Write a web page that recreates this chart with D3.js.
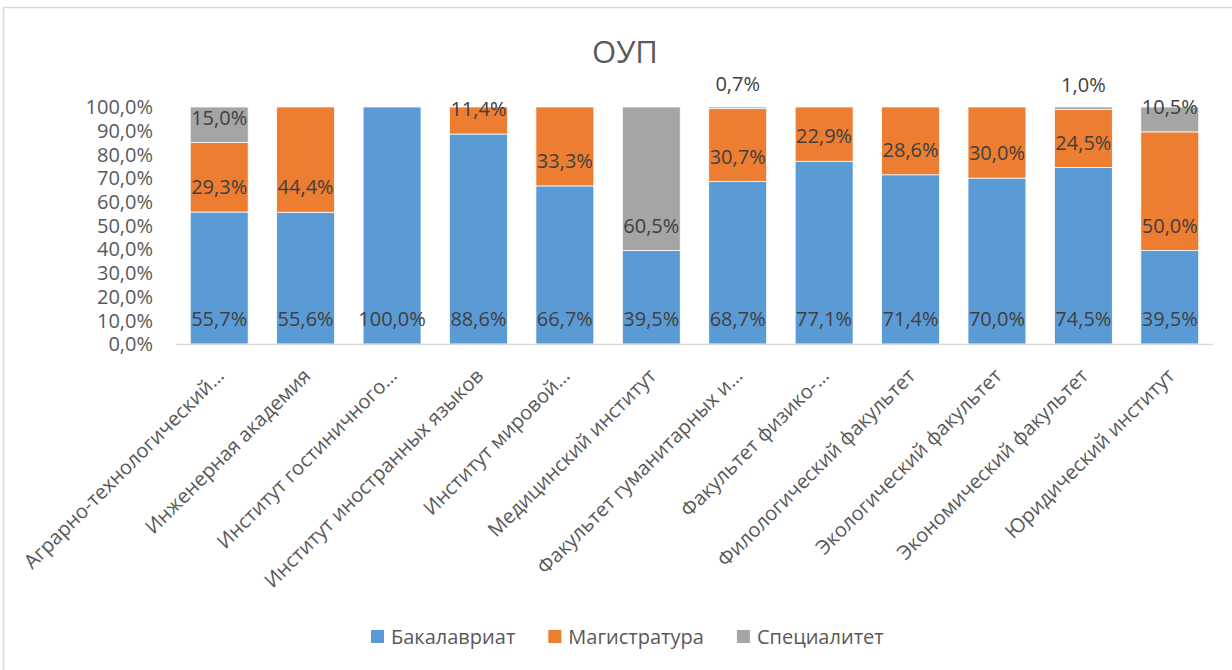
<!DOCTYPE html>
<html>
<head>
<meta charset="utf-8">
<script src="https://cdn.jsdelivr.net/npm/d3@7"></script>
<style>
    body { margin: 0; background: #fff; }
    svg { display: block; font-family: "Open Sans", sans-serif; }
</style>
</head>
<body>
<div class="canvas"></div>
<script>
const categories = [
    "Аграрно-технологический…",
    "Инженерная академия",
    "Институт гостиничного…",
    "Институт иностранных языков",
    "Институт мировой…",
    "Медицинский институт",
    "Факультет гуманитарных и…",
    "Факультет физико-…",
    "Филологический факультет",
    "Экологический факультет",
    "Экономический факультет",
    "Юридический институт"
];
const seriesNames = ["Бакалавриат", "Магистратура", "Специалитет"];
const colors = ["#5b9bd5", "#ed7d31", "#a5a5a5"];
const bachelor = [55.7, 55.6, 100.0, 88.6, 66.7, 39.5, 68.7, 77.1, 71.4, 70.0, 74.5, 39.5];
const master = [29.3, 44.4, 0, 11.4, 33.3, 0, 30.7, 22.9, 28.6, 30.0, 24.5, 50.0];
const specialist = [15.0, 0, 0, 0, 0, 60.5, 0.7, 0, 0, 0, 1.0, 10.5];
const yTicks = d3.range(0, 1.01, 0.1);

const
    width = 1232,
    height = 670,
    plotLeft = 176,
    plotRight = 1213,
    plotTop = 107,
    plotBottom = 344;

const fmt = v => d3.format(".1f")(v).replace(".", ",") + "%";

// rows for the stack, each bar scaled to 100%
const rows = categories.map((c, i) => {
    const total = bachelor[i] + master[i] + specialist[i];
    return {
        cat: c,
        "Бакалавриат": bachelor[i] / total,
        "Магистратура": master[i] / total,
        "Специалитет": specialist[i] / total,
        raw: [bachelor[i], master[i], specialist[i]]
    };
});
const stacked = d3.stack().keys(seriesNames)(rows);

const svg = d3.select('.canvas').append("svg")
    .attr('width', width)
    .attr('height', height);

// chart frame
svg.append("rect")
    .attr("x", 3.5).attr("y", 7.5)
    .attr("width", width + 10).attr("height", height + 10)
    .attr("fill", "none")
    .attr("stroke", "#d9d9d9")
    .attr("stroke-width", 1.5);

const x = d3.scaleBand()
    .domain(categories)
    .range([plotLeft, plotRight])
    .paddingInner(0.33)
    .paddingOuter(0.165);
const y = d3.scaleLinear()
    .domain([0, 1])
    .range([plotBottom, plotTop]);

svg.append("text")
    .attr("x", 625).attr("y", 63)
    .attr("text-anchor", "middle")
    .attr("font-size", 31)
    .attr("fill", "#595959")
    .text("ОУП");

// y axis labels
svg.selectAll(".ytick")
    .data(yTicks)
    .enter()
    .append("text")
    .attr("class", "ytick")
    .attr("x", 153)
    .attr("y", d => y(d))
    .attr("dy", "0.36em")
    .attr("text-anchor", "end")
    .attr("font-size", 20)
    .attr("fill", "#595959")
    .text(d => fmt(d * 100));

const layers = svg.selectAll(".layer")
    .data(stacked)
    .enter()
    .append("g")
    .attr("class", "layer")
    .attr("fill", (d, i) => colors[i]);

layers.selectAll("rect")
    .data(d => d)
    .enter()
    .append("rect")
    .attr("x", d => x(d.data.cat))
    .attr("y", d => y(d[1]))
    .attr("width", x.bandwidth())
    .attr("height", d => y(d[0]) - y(d[1]))
    .attr("stroke", "#fff")
    .attr("stroke-width", 0.75);

// axis line
svg.append("line")
    .attr("x1", plotLeft).attr("x2", plotRight)
    .attr("y1", plotBottom + 0.5).attr("y2", plotBottom + 0.5)
    .attr("stroke", "#d9d9d9")
    .attr("stroke-width", 1.5);

// data labels, placed just above the base of each segment
stacked.forEach((layer, k) => {
    svg.append("g")
        .selectAll("text")
        .data(layer.filter(d => d.data.raw[k] > 0))
        .enter()
        .append("text")
        .attr("x", d => x(d.data.cat) + x.bandwidth() / 2)
        .attr("y", d => y(d[0]) - 25)
        .attr("dy", "0.36em")
        .attr("text-anchor", "middle")
        .attr("font-size", 20)
        .attr("fill", "#404040")
        .text(d => fmt(d.data.raw[k]));
});

// category labels
svg.selectAll(".xlab")
    .data(categories)
    .enter()
    .append("text")
    .attr("class", "xlab")
    .attr("transform", d => `translate(${x(d) + x.bandwidth() / 2 + 1},372) rotate(-45)`)
    .attr("dy", "0.36em")
    .attr("text-anchor", "end")
    .attr("font-size", 20)
    .attr("fill", "#595959")
    .text(d => d);

// legend
const legend = svg.append("g");
let lx = 0;
seriesNames.forEach((name, i) => {
    const item = legend.append("g").attr("transform", `translate(${lx},0)`);
    item.append("rect")
        .attr("x", 0).attr("y", -7)
        .attr("width", 13).attr("height", 13)
        .attr("fill", colors[i]);
    const t = item.append("text")
        .attr("x", 20).attr("y", 0)
        .attr("dy", "0.36em")
        .attr("font-size", 20)
        .attr("fill", "#595959")
        .text(name);
    lx += 20 + t.node().getComputedTextLength() + 33;
});
legend.attr("transform", `translate(371,637)`);
</script>
</body>
</html>
